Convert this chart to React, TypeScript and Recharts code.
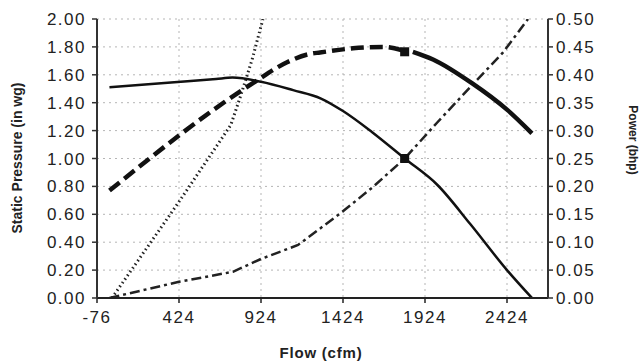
import { ComposedChart, Line, Scatter, XAxis, YAxis, CartesianGrid } from "recharts";

const flowTicks = [-76, 424, 924, 1424, 1924, 2424];
const pressureTicks = [0, 0.2, 0.4, 0.6, 0.8, 1.0, 1.2, 1.4, 1.6, 1.8, 2.0];
const powerTicks = [0, 0.05, 0.1, 0.15, 0.2, 0.25, 0.3, 0.35, 0.4, 0.45, 0.5];

// fan pressure curve (in wg)
const fanFlow = [0, 375, 650, 750, 924, 1120, 1290, 1424, 1600, 1800, 2000, 2200, 2424, 2576];
const fanPressure = [1.51, 1.545, 1.57, 1.58, 1.55, 1.49, 1.43, 1.34, 1.19, 1.0, 0.81, 0.53, 0.2, 0.0];

// thick curve, dashed part then solid part (plotted on pressure scale)
const effFlowA = [0, 887, 1083, 1223, 1284, 1485, 1668, 1800];
const effA = [0.77, 1.55, 1.69, 1.75, 1.76, 1.79, 1.8, 1.77];
const effFlowB = [1850, 1973, 2210, 2424, 2576];
const effB = [1.765, 1.71, 1.54, 1.35, 1.18];

// system curve (dotted)
const sysFlow = [15, 424, 740, 800, 870, 936];
const sysPressure = [0, 0.69, 1.24, 1.45, 1.71, 2.0];

// power (bhp), dash-dot
const powerFlow = [0, 424, 753, 924, 1150, 1418, 1607, 1800, 2000, 2200, 2400, 2552];
const power = [0, 0.029, 0.047, 0.07, 0.095, 0.154, 0.199, 0.25, 0.315, 0.378, 0.44, 0.5];

// operating point markers
const markFlow = [1800, 1800];
const markPressure = [1.0, 1.765];

const zip = (xs: number[], ys: number[]) => xs.map((x, i) => ({ x, y: ys[i] }));

const fanData = zip(fanFlow, fanPressure);
const effDataA = zip(effFlowA, effA);
const effDataB = zip(effFlowB, effB);
const sysData = zip(sysFlow, sysPressure);
const powerData = zip(powerFlow, power);
const markData = zip(markFlow, markPressure);

const font = "'Liberation Sans', Arial, sans-serif";
const tickStyle = { fill: "#222", fontSize: 17, fontFamily: font, letterSpacing: 1.5 };

const Square = (p: any) => (
  <rect x={p.cx - 4.5} y={p.cy - 4.5} width={9} height={9} fill="#111" />
);

export default function App() {
  return (
    <div style={{ position: "absolute", left: 0, top: 0, width: 642, height: 364, background: "#fff" }}>
      <ComposedChart width={642} height={364} margin={{ top: 19, right: 0, bottom: 0, left: 0 }}>
        <CartesianGrid stroke="#b5b5b5" strokeDasharray="2 4" yAxisId="left" />
        <XAxis
          type="number"
          dataKey="x"
          domain={[-76, 2674]}
          ticks={flowTicks}
          allowDataOverflow
          height={66}
          tick={tickStyle}
          tickSize={5}
          tickMargin={8}
          axisLine={{ stroke: "#222", strokeWidth: 2 }}
          tickLine={{ stroke: "#222", strokeWidth: 1.5 }}
        />
        <YAxis
          yAxisId="left"
          type="number"
          domain={[0, 2]}
          ticks={pressureTicks}
          allowDataOverflow
          width={97}
          tick={tickStyle}
          tickSize={5}
          tickMargin={6}
          tickFormatter={(v: number) => v.toFixed(2)}
          axisLine={{ stroke: "#333", strokeWidth: 2 }}
          tickLine={{ stroke: "#333", strokeWidth: 1.5 }}
        />
        <YAxis
          yAxisId="right"
          orientation="right"
          type="number"
          domain={[0, 0.5]}
          ticks={powerTicks}
          allowDataOverflow
          width={94}
          tick={tickStyle}
          tickSize={5}
          tickMargin={3}
          tickFormatter={(v: number) => v.toFixed(2)}
          axisLine={{ stroke: "#333", strokeWidth: 2 }}
          tickLine={{ stroke: "#333", strokeWidth: 1.5 }}
        />
        <Line data={sysData} dataKey="y" yAxisId="left" type="linear" stroke="#222" strokeWidth={3}
          strokeDasharray="1.5 3" dot={false} activeDot={false} isAnimationActive={false} />
        <Line data={powerData} dataKey="y" yAxisId="right" type="linear" stroke="#222" strokeWidth={2.5}
          strokeDasharray="10 4 3 4" dot={false} activeDot={false} isAnimationActive={false} />
        <Line data={effDataA} dataKey="y" yAxisId="left" type="monotone" stroke="#111" strokeWidth={4.5}
          strokeDasharray="13 6" dot={false} activeDot={false} isAnimationActive={false} />
        <Line data={effDataB} dataKey="y" yAxisId="left" type="monotone" stroke="#111" strokeWidth={4.5}
          dot={false} activeDot={false} isAnimationActive={false} />
        <Line data={fanData} dataKey="y" yAxisId="left" type="monotone" stroke="#111" strokeWidth={2.5}
          dot={false} activeDot={false} isAnimationActive={false} />
        <Scatter data={markData} dataKey="y" yAxisId="left" shape={Square} isAnimationActive={false} />
      </ComposedChart>
      <svg width={642} height={364} style={{ position: "absolute", left: 0, top: 0, pointerEvents: "none" }}>
        <text x={17} y={158} transform="rotate(-90 17 158)" textAnchor="middle" dominantBaseline="central"
          fontFamily={font} fontWeight="bold" fontSize={14} fill="#222">
          Static Pressure (in wg)
        </text>
        <text x={633} y={140} transform="rotate(90 633 140)" textAnchor="middle" dominantBaseline="central"
          fontFamily={font} fontWeight="bold" fontSize={12} fill="#222">
          Power (bhp)
        </text>
        <text x={321} y={358} textAnchor="middle" fontFamily={font} fontWeight="bold" fontSize={15}
          letterSpacing={0.8} fill="#222">
          Flow (cfm)
        </text>
      </svg>
    </div>
  );
}
